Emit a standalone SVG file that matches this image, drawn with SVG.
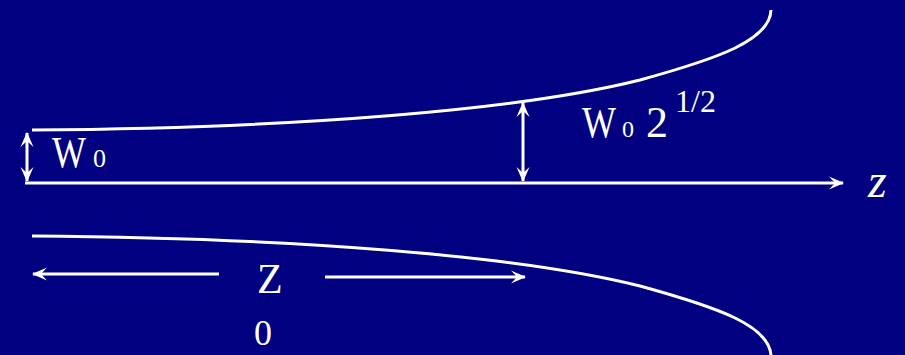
<svg xmlns="http://www.w3.org/2000/svg" width="905" height="355" viewBox="0 0 905 355">
<style>
.ln{stroke:#fff;stroke-width:3;fill:none}
.t{fill:#fff}
</style>
<defs>
<marker id="ah" viewBox="-16 -8 18 16" refX="0" refY="0" markerWidth="18" markerHeight="16" markerUnits="userSpaceOnUse" orient="auto-start-reverse">
<path d="M1,0 L-14,-6.5 L-8,0 L-14,6.5 z" fill="#fff"/>
</marker>
</defs>
<rect width="905" height="355" fill="#000080"/>
<g id="beam">
<path id="upper" class="ln" d="M32,130 C300,128 520,110 640,80 C720,58 770,40 771,10"/>
<path id="lower" class="ln" d="M32,236 C300,238 520,256 640,286 C720,308 770,326 771,356"/>
</g>
<g id="connectors">
<line class="ln" x1="25" y1="183" x2="843" y2="183" marker-end="url(#ah)"/>
<line class="ln" x1="27" y1="133" x2="27" y2="181" marker-start="url(#ah)" marker-end="url(#ah)"/>
<line class="ln" x1="523" y1="103" x2="523" y2="181" marker-start="url(#ah)" marker-end="url(#ah)"/>
<line class="ln" x1="219" y1="274" x2="33" y2="274" marker-end="url(#ah)"/>
<line class="ln" x1="325" y1="277" x2="525" y2="277" marker-end="url(#ah)"/>
</g>
<g id="label-w0" font-family="Liberation Serif, DejaVu Serif, serif">
<text class="t" x="52" y="167" font-size="44" textLength="34" lengthAdjust="spacingAndGlyphs">W</text>
<text class="t" x="93" y="167" font-size="26">0</text>
</g>
<g id="label-w0sqrt2" font-family="Liberation Serif, DejaVu Serif, serif">
<text class="t" x="582" y="137" font-size="44" textLength="34" lengthAdjust="spacingAndGlyphs">W</text>
<text class="t" x="622" y="137" font-size="24">0</text>
<text class="t" x="646" y="137" font-size="44">2</text>
<text class="t" x="675" y="112" font-size="32">1/2</text>
</g>
<g id="label-z" font-family="Liberation Serif, DejaVu Serif, serif">
<text class="t" x="868" y="197" font-size="48" font-style="italic">z</text>
</g>
<g id="label-z0" font-family="Liberation Serif, DejaVu Serif, serif">
<text class="t" x="257" y="293" font-size="42">Z</text>
<text class="t" x="254" y="345" font-size="36">0</text>
</g>
</svg>
